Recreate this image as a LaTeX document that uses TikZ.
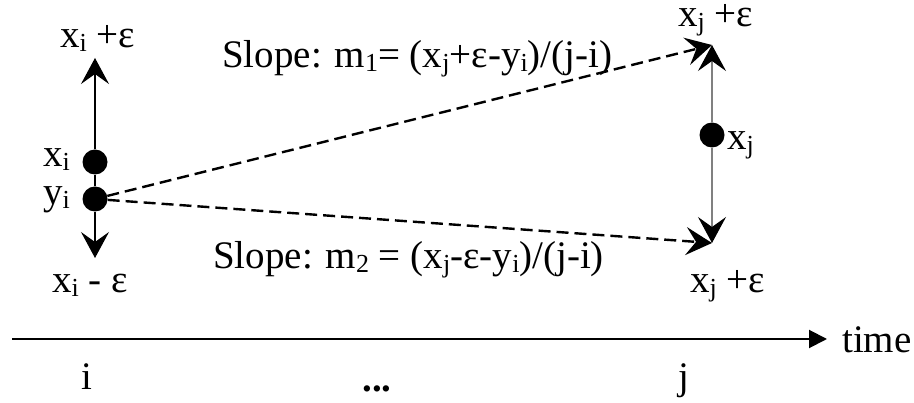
\documentclass[tikz,border=0pt]{standalone}
\usepackage{fontspec}
\setmainfont{Liberation Serif}
\usetikzlibrary{arrows.meta}

\newcommand\lowsub[1]{\raisebox{-0.1em}{\fontsize{26}{30}\selectfont #1}}

\begin{document}
\begin{tikzpicture}[x=1pt,y=-1pt,
  font=\fontsize{39}{46}\selectfont,
  dot/.style={circle,fill,inner sep=0pt,minimum size=25pt},
  lbl/.style={anchor=base west,inner sep=0pt},
  tick/.style={anchor=base,inner sep=0pt},
  bar/.style={line width=1.2pt,-{Stealth[length=26pt,width=28pt,inset=10pt,color=black]}},
  guess/.style={line width=2.4pt,dash pattern=on 12pt off 6pt,-{Stealth[length=26pt,width=28pt,inset=10pt]}},
  axis/.style={line width=2pt,-{Triangle[length=18pt,width=18pt]}}]
  \useasboundingbox (0,0) rectangle (914,403);
  % point i
  \node[dot] (xi) at (95,162) {};
  \node[dot] (yi) at (95,199) {};
  \coordinate (xiup) at (95,58);
  \coordinate (xidown) at (95,258);
  \draw[bar] (xi) -- (xiup);
  \draw[line width=1.2pt] (xi) -- (yi);
  \draw[bar] (yi) -- (xidown);
  \node[lbl] (lxiup) at (60,48) {x\lowsub{i} +ε};
  \node[lbl] (lxi) at (43,167) {x\lowsub{i}};
  \node[lbl] (lyi) at (43,205) {y\lowsub{i}};
  \node[lbl] (lxidown) at (52,293) {x\lowsub{i} - ε};
  % point j
  \node[dot] (xj) at (712,135) {};
  \coordinate (xjup) at (712,45);
  \coordinate (xjdown) at (712,243);
  \draw[bar,draw=gray] (xj) -- (xjup);
  \draw[bar,draw=gray] (xj) -- (xjdown);
  \node[lbl,text height=0.55em] (lxjup) at (678,27) {x\lowsub{j} +ε};
  \node[lbl] (lxj) at (727,150) {x\lowsub{j}};
  \node[lbl] (lxjdown) at (690,293) {x\lowsub{j} +ε};
  % slopes
  \draw[guess] (yi) -- (xjup);
  \draw[guess] (yi) -- (xjdown);
  \node[lbl] (m1) at (222,68) {Slope: m\lowsub{1}= (x\lowsub{j}+ε-y\lowsub{i})/(j-i)};
  \node[lbl] (m2) at (213,269) {Slope: m\lowsub{2} = (x\lowsub{j}-ε-y\lowsub{i})/(j-i)};
  % time axis
  \coordinate (t0) at (12,339);
  \node[lbl] (time) at (842,353) {time};
  \draw[axis,shorten >=15pt] (t0) -- (t0 -| time.west);
  \node[tick] (ti) at (87,390) {i};
  \node[tick] (tdots) at (377,392) {\textbf{...}};
  \node[tick] (tj) at (684,390) {j};
\end{tikzpicture}
\end{document}
